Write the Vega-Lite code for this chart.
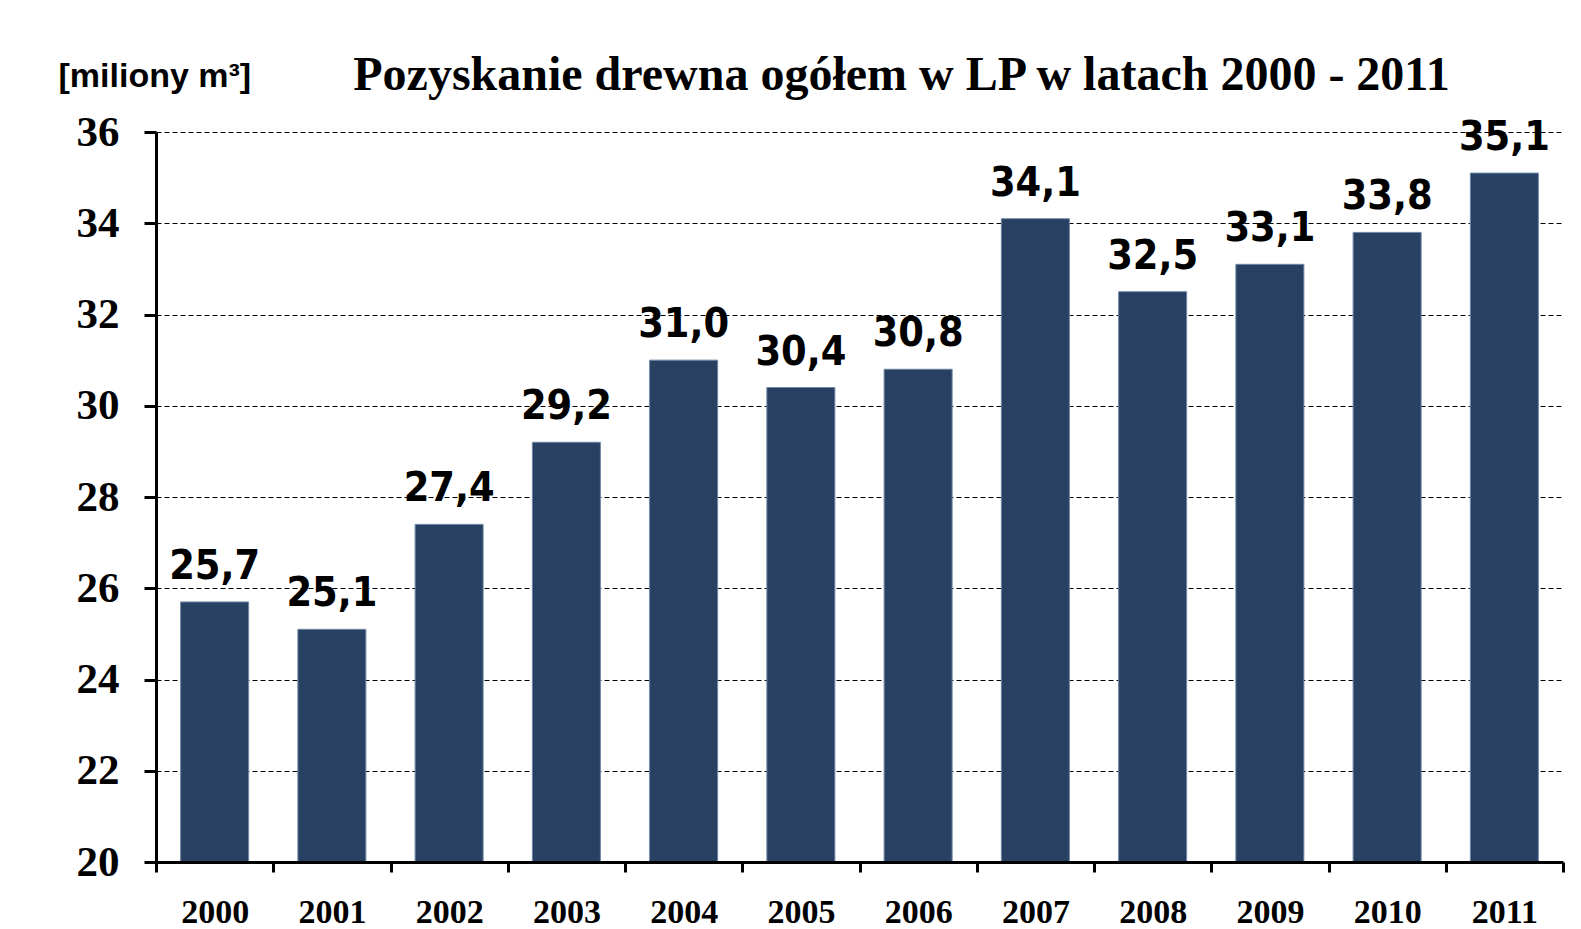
{
  "$schema": "https://vega.github.io/schema/vega-lite/v6.json",
  "width": 1407,
  "height": 730,
  "autosize": {"type": "none"},
  "padding": {"left": 156, "top": 132, "right": 18, "bottom": 67},
  "background": "white",
  "title": {
    "text": "Pozyskanie drewna ogółem w LP w latach 2000 - 2011",
    "font": "Liberation Serif",
    "fontWeight": "bold",
    "fontSize": 48,
    "color": "black",
    "anchor": "middle",
    "frame": "group",
    "dx": 42,
    "baseline": "alphabetic",
    "offset": -79
  },
  "data": {
    "values": [
      {"rok": "2000", "wartosc": 25.7, "etykieta": "25,7"},
      {"rok": "2001", "wartosc": 25.1, "etykieta": "25,1"},
      {"rok": "2002", "wartosc": 27.4, "etykieta": "27,4"},
      {"rok": "2003", "wartosc": 29.2, "etykieta": "29,2"},
      {"rok": "2004", "wartosc": 31.0, "etykieta": "31,0"},
      {"rok": "2005", "wartosc": 30.4, "etykieta": "30,4"},
      {"rok": "2006", "wartosc": 30.8, "etykieta": "30,8"},
      {"rok": "2007", "wartosc": 34.1, "etykieta": "34,1"},
      {"rok": "2008", "wartosc": 32.5, "etykieta": "32,5"},
      {"rok": "2009", "wartosc": 33.1, "etykieta": "33,1"},
      {"rok": "2010", "wartosc": 33.8, "etykieta": "33,8"},
      {"rok": "2011", "wartosc": 35.1, "etykieta": "35,1"}
    ]
  },
  "encoding": {
    "x": {
      "field": "rok",
      "type": "nominal",
      "sort": null,
      "scale": {"paddingInner": 0, "paddingOuter": 0},
      "axis": {
        "title": null,
        "labelAngle": 0,
        "labelFont": "Liberation Serif",
        "labelFontWeight": "bold",
        "labelFontSize": 34,
        "labelColor": "black",
        "labelBaseline": "alphabetic",
        "labelPadding": 50,
        "domainColor": "black",
        "domainWidth": 3,
        "tickColor": "black",
        "tickWidth": 3,
        "tickSize": 10,
        "tickBand": "extent",
        "grid": false,
        "zindex": 1
      }
    },
    "y": {
      "field": "wartosc",
      "type": "quantitative",
      "scale": {"domain": [20, 36], "zero": false, "nice": false},
      "axis": {
        "title": "[miliony m³]",
        "titleAngle": 0,
        "titleAlign": "left",
        "titleBaseline": "alphabetic",
        "titleX": -98,
        "titleY": -46,
        "titleFont": "Liberation Sans",
        "titleFontWeight": "bold",
        "titleFontSize": 34,
        "titleColor": "black",
        "values": [20, 22, 24, 26, 28, 30, 32, 34, 36],
        "labelFont": "Liberation Serif",
        "labelFontWeight": "bold",
        "labelFontSize": 43,
        "labelColor": "black",
        "labelPadding": 25,
        "domainColor": "black",
        "domainWidth": 3,
        "tickColor": "black",
        "tickWidth": 3,
        "tickSize": 12,
        "grid": true,
        "gridColor": "black",
        "gridWidth": 1,
        "gridDash": [5, 3],
        "gridOpacity": 1
      }
    }
  },
  "layer": [
    {
      "mark": {"type": "bar", "color": "#284062", "stroke": "#6f88a6", "strokeWidth": 1, "width": {"band": 0.58}},
      "encoding": {"y2": {"datum": 20}}
    },
    {
      "mark": {
        "type": "text",
        "font": "DejaVu Sans Condensed, Open Sans",
        "fontWeight": "bold",
        "fontSize": 41,
        "color": "black",
        "baseline": "alphabetic",
        "dy": -23
      },
      "encoding": {"text": {"field": "etykieta"}}
    }
  ],
  "config": {"view": {"stroke": null}}
}
